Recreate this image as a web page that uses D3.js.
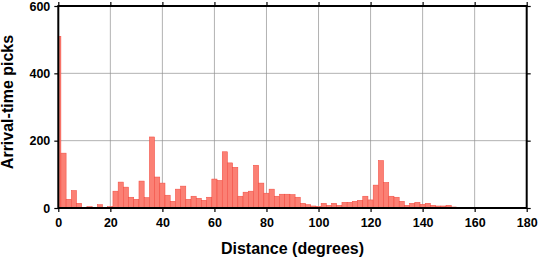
<!DOCTYPE html>
<html><head><meta charset="utf-8">
<script src="https://cdn.jsdelivr.net/npm/d3@7"></script>
<style>
html,body{margin:0;padding:0;background:#fff;}
svg{display:block;}
text{font-family:"Liberation Sans",Arial,Helvetica,sans-serif;font-weight:bold;fill:#000;}
</style></head>
<body>
<script>
// Bin centres (degrees), each bin 2 degrees wide
const binCenters = [0,2,4,6,8,10,12,14,16,18,20,22,24,26,28,30,32,34,36,38,40,42,44,46,48,50,52,54,56,58,
  60,62,64,66,68,70,72,74,76,78,80,82,84,86,88,90,92,94,96,98,100,102,104,106,108,110,112,114,116,118,
  120,122,124,126,128,130,132,134,136,138,140,142,144,146,148,150,152,154,156,158,160,162,164,166,168,170,
  172,174,176,178,180];
const counts = [510,163,26,52,14,0,4,2,10,0,4,50,77,62,32,26,80,31,211,92,74,38,20,56,65,26,35,29,23,32,
  86,82,167,134,121,35,47,50,127,74,44,56,35,41,41,40,32,14,10,6,5,14,8,14,8,17,17,20,23,35,
  24,68,141,76,35,32,20,8,14,17,11,14,8,6,6,8,3,2,2,1,0,1,0,0,1,0,
  0,0,0,0,0];
const binWidth = 2;
const xTicks = [0,20,40,60,80,100,120,140,160,180];
const yTicks = [0,200,400,600];
const xLabel = "Distance (degrees)";
const yLabel = "Arrival-time picks";

const W = 539, H = 258;
const m = {left: 58.3, right: 12.3, top: 6, bottom: 50};
const svg = d3.select("body").append("svg").attr("width", W).attr("height", H);

const x = d3.scaleLinear().domain([0, 180]).range([m.left, W - m.right]);
const y = d3.scaleLinear().domain([0, 600]).range([H - m.bottom, m.top]);

// grid
const grid = svg.append("g");
grid.selectAll("line.gx").data(xTicks.slice(1, -1)).join("line")
  .attr("x1", d => x(d)).attr("x2", d => x(d)).attr("y1", y(0)).attr("y2", y(600))
  .attr("stroke", "#909090").attr("stroke-width", 0.7);
grid.selectAll("line.gy").data(yTicks.slice(1, -1)).join("line")
  .attr("y1", d => y(d)).attr("y2", d => y(d)).attr("x1", x(0)).attr("x2", x(180))
  .attr("stroke", "#909090").attr("stroke-width", 0.7);

// bars
const bins = binCenters.map((c, i) => ({x0: Math.max(0, c - binWidth/2), x1: Math.min(180, c + binWidth/2), v: counts[i]}));
svg.append("g").selectAll("rect").data(bins.filter(b => b.v > 0)).join("rect")
  .attr("x", d => x(d.x0)).attr("width", d => x(d.x1) - x(d.x0))
  .attr("y", d => y(d.v)).attr("height", d => y(0) - y(d.v))
  .attr("fill", "#fb8074").attr("stroke", "#f2473c").attr("stroke-width", 0.5);

// axes
const tickLen = 4;
const ax = d3.axisBottom(x).tickValues(xTicks).tickSize(tickLen).tickPadding(6);
const gx = svg.append("g").attr("transform", `translate(0,${y(0)})`).call(ax);
const axT = d3.axisTop(x).tickValues(xTicks).tickSize(tickLen).tickFormat("");
const gxt = svg.append("g").attr("transform", `translate(0,${y(600)})`).call(axT);
const ay = d3.axisLeft(y).tickValues(yTicks).tickSize(tickLen).tickPadding(4);
const gy = svg.append("g").attr("transform", `translate(${x(0)},0)`).call(ay);
const ayR = d3.axisRight(y).tickValues(yTicks).tickSize(tickLen).tickFormat("");
const gyr = svg.append("g").attr("transform", `translate(${x(180)},0)`).call(ayR);

[gx, gxt, gy, gyr].forEach(g => {
  g.select(".domain").remove();
  g.selectAll(".tick line").attr("stroke", "#000").attr("stroke-width", 1.2);
  g.selectAll("text").style("font-size", "12.5px").style("font-weight", "bold")
    .style("font-family", '"Liberation Sans",Arial,sans-serif').attr("fill", "#000");
});

// frame
svg.append("rect").attr("x", x(0)).attr("y", y(600)).attr("width", x(180) - x(0)).attr("height", y(0) - y(600))
  .attr("fill", "none").attr("stroke", "#000").attr("stroke-width", 2);

// labels
svg.append("text").attr("x", (x(0) + x(180)) / 2).attr("y", 254).attr("text-anchor", "middle")
  .style("font-size", "16px").text(xLabel);
svg.append("text").attr("transform", `translate(12.5,${(y(0) + y(600)) / 2 - 5}) rotate(-90)`)
  .attr("text-anchor", "middle").style("font-size", "16px").text(yLabel);
</script>
</body></html>
